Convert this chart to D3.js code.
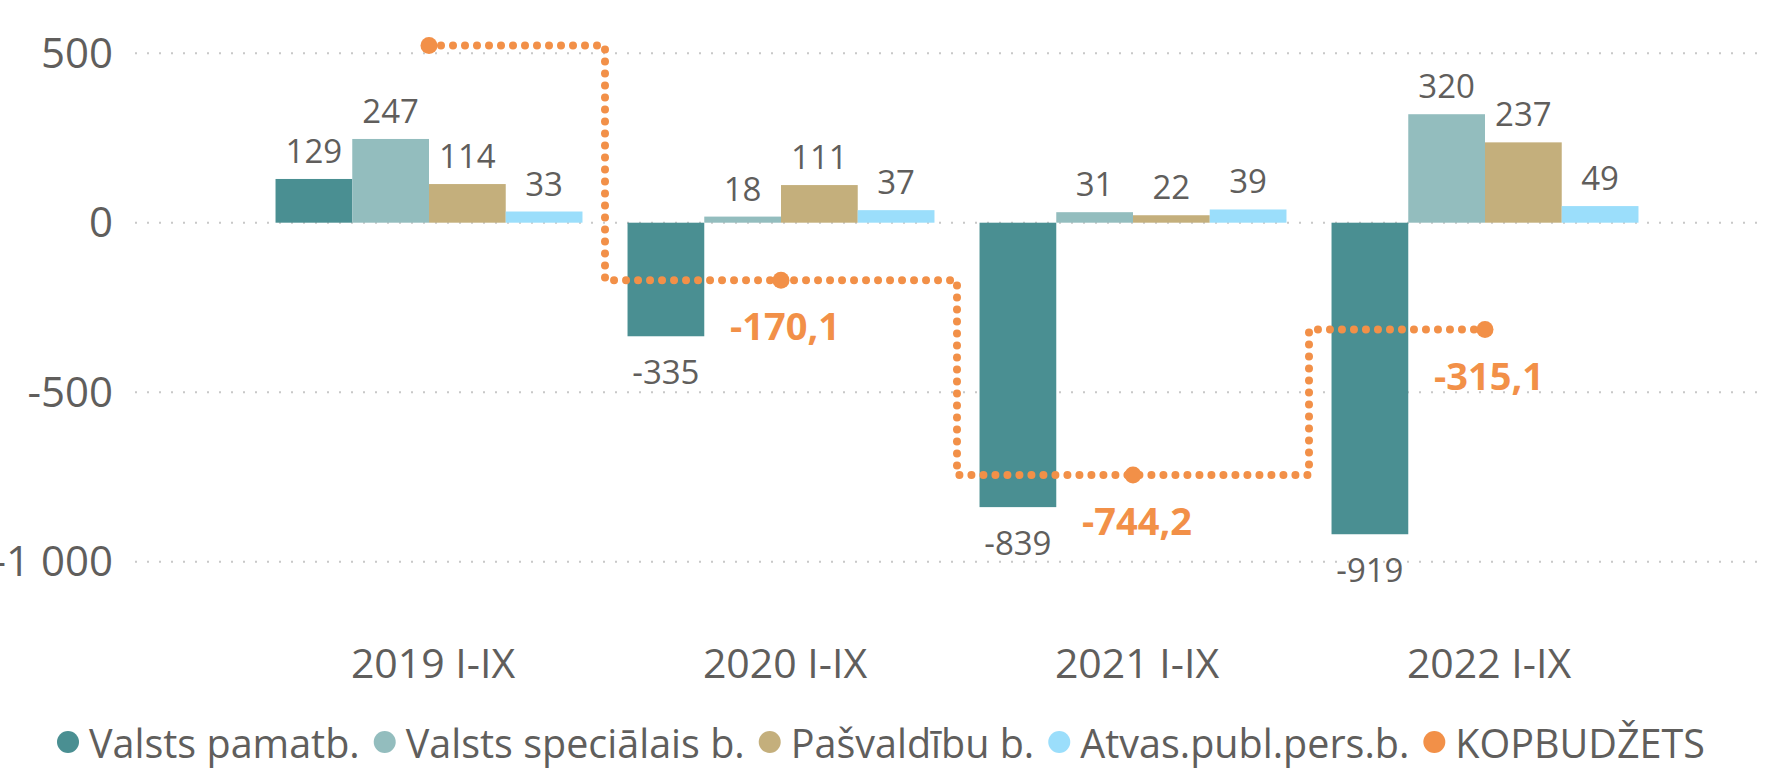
<!DOCTYPE html>
<html>
<head>
<meta charset="utf-8">
<script src="https://cdn.jsdelivr.net/npm/d3@7"></script>
<style>
  body { margin: 0; background: #fff; }
  text { font-family: "Segoe UI", "Open Sans", sans-serif; fill: #605E5C; }
</style>
</head>
<body>
<div id="chart"></div>
<script>
var svgWidth = 1765;
var svgHeight = 775;

// data
var periods = ["2019 I-IX", "2020 I-IX", "2021 I-IX", "2022 I-IX"];
var seriesNames = ["Valsts pamatb.", "Valsts speciālais b.", "Pašvaldību b.", "Atvas.publ.pers.b."];
var valstsPamatb = [129, -335, -839, -919];
var valstsSpecialais = [247, 18, 31, 320];
var pasvaldibu = [114, 111, 22, 237];
var atvasPubl = [33, 37, 39, 49];
var totalName = "KOPBUDŽETS";
var kopbudzets = [523, -170.1, -744.2, -315.1];
var yTicks = [-1000, -500, 0, 500];

var seriesColors = ["#4A8F92", "#93BDBE", "#C4AF7C", "#9BDEFB"];
var totalColor = "#F29048";

var seriesValues = [valstsPamatb, valstsSpecialais, pasvaldibu, atvasPubl];

var lv = d3.formatLocale({ decimal: ",", thousands: " ", grouping: [3], currency: ["", ""], minus: "-" });
var fmtInt = lv.format(",d");
var fmtOne = lv.format(",.1f");

var svg = d3.select("#chart")
  .append("svg")
  .attr("width", svgWidth)
  .attr("height", svgHeight);

// scales
var x0 = d3.scaleBand()
  .domain(periods)
  .range([253, 1661])
  .paddingInner(0.128)
  .paddingOuter(0.064);

var x1 = d3.scaleBand()
  .domain(seriesNames)
  .range([0, x0.bandwidth()]);

var y = d3.scaleLinear()
  .domain([-1000, 500])
  .range([561.7, 53.2]);

// gridlines + y labels
var grid = svg.append("g");
grid.selectAll("line")
  .data(yTicks)
  .enter()
  .append("line")
  .attr("x1", 135)
  .attr("x2", svgWidth)
  .attr("y1", d => y(d))
  .attr("y2", d => y(d))
  .attr("stroke", "#C8C8C8")
  .attr("stroke-width", 2)
  .attr("stroke-dasharray", "2 10");

grid.selectAll("text")
  .data(yTicks)
  .enter()
  .append("text")
  .attr("x", 113)
  .attr("y", d => y(d))
  .attr("dy", "0.35em")
  .attr("text-anchor", "end")
  .style("font-size", "42px")
  .text(d => fmtInt(d));

// bars
var rows = [];
periods.forEach((p, i) => {
  seriesNames.forEach((s, j) => {
    rows.push({ period: p, series: s, j: j, value: seriesValues[j][i] });
  });
});

var bars = svg.append("g");
bars.selectAll("rect")
  .data(rows)
  .enter()
  .append("rect")
  .attr("x", d => x0(d.period) + x1(d.series))
  .attr("width", x1.bandwidth())
  .attr("y", d => y(Math.max(0, d.value)))
  .attr("height", d => Math.abs(y(d.value) - y(0)))
  .attr("fill", d => seriesColors[d.j]);

bars.selectAll("text")
  .data(rows)
  .enter()
  .append("text")
  .attr("x", d => x0(d.period) + x1(d.series) + x1.bandwidth() / 2)
  .attr("y", d => d.value >= 0 ? y(d.value) - 16 : y(d.value) + 48)
  .attr("text-anchor", "middle")
  .style("font-size", "33px")
  .text(d => fmtInt(d.value));

// x labels
svg.append("g").selectAll("text")
  .data(periods)
  .enter()
  .append("text")
  .attr("x", d => x0(d) + x0.bandwidth() / 2 + 4)
  .attr("y", 678)
  .attr("text-anchor", "middle")
  .style("font-size", "41px")
  .text(d => d);

// total step line
var totals = periods.map((p, i) => ({ period: p, i: i, value: kopbudzets[i] }));
var cx = d => x0(d.period) + x0.bandwidth() / 2;

var line = d3.line()
  .x(cx)
  .y(d => y(d.value))
  .curve(d3.curveStep);

svg.append("path")
  .datum(totals)
  .attr("d", line)
  .attr("fill", "none")
  .attr("stroke", totalColor)
  .attr("stroke-width", 8)
  .attr("stroke-linecap", "round")
  .attr("stroke-dasharray", "0 12");

svg.append("g").selectAll("circle")
  .data(totals)
  .enter()
  .append("circle")
  .attr("cx", cx)
  .attr("cy", d => y(d.value))
  .attr("r", 8.5)
  .attr("fill", totalColor);

// first label is hidden in the original
svg.append("g").selectAll("text")
  .data(totals.filter(d => d.i > 0))
  .enter()
  .append("text")
  .attr("x", d => cx(d) + 4)
  .attr("y", d => y(d.value) + 60)
  .attr("text-anchor", "middle")
  .style("font-size", "38px")
  .style("font-weight", "bold")
  .style("fill", totalColor)
  .text(d => fmtOne(d.value));

// legend
var legendItems = seriesNames.map((s, j) => ({ name: s, color: seriesColors[j] }))
  .concat([{ name: totalName, color: totalColor }]);

var legend = svg.append("g");
var lx = 68;
legendItems.forEach(item => {
  legend.append("circle")
    .attr("cx", lx)
    .attr("cy", 742)
    .attr("r", 11)
    .attr("fill", item.color);
  var t = legend.append("text")
    .attr("x", lx + 21)
    .attr("y", 758)
    .style("font-size", "39.5px")
    .text(item.name);
  lx += 21 + t.node().getComputedTextLength() + 25;
});
</script>
</body>
</html>
